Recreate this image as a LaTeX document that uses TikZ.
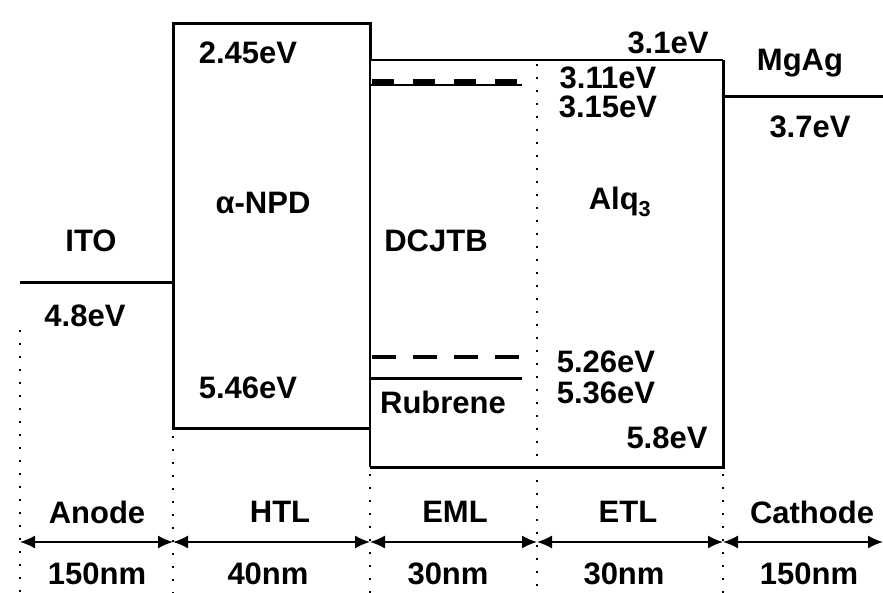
\documentclass[tikz,border=0pt]{standalone}
\usepackage{fontspec}
\setmainfont{Liberation Sans}
\usetikzlibrary{arrows.meta,calc,positioning}

\begin{document}
\begin{tikzpicture}[x=1pt,y=-1pt,
        lvl/.style={line width=3pt},
        sep/.style={dash pattern=on 2pt off 11pt,line width=1.6pt},
        txt/.style={font=\fontsize{31}{36}\selectfont\bfseries,inner sep=0pt},
        dim/.style={{Latex[length=15pt,width=13pt]}-{Latex[length=15pt,width=13pt]},line width=1.6pt}]
        \useasboundingbox (0,0) rectangle (883,593);
        % layer borders
        \coordinate (b0) at (20,542);
        \coordinate (b1) at (173,542);
        \coordinate (b2) at (370,542);
        \coordinate (b3) at (537,542);
        \coordinate (b4) at (723,542);
        \coordinate (b5) at (883,542);
        % ITO and MgAg levels
        \draw[lvl] (20,283) -- (173,283);
        \draw[lvl] (723,97) -- (883,97);
        % HTL box
        \draw[lvl] (370,60) -- (370,24) -- (173,24) -- (173,428) -- (370,428);
        % EML and ETL box
        \draw[line width=1.6pt] (370,24) -- (370,467);
        \draw[line width=2pt] (370,60) -- (723,60);
        \draw[lvl] (723,60) -- (723,467) -- (370,467);
        % dopant levels
        \draw[line width=2.4pt] (370,85) -- (522,85);
        \draw[line width=7pt,dash pattern=on 22pt off 19pt] (372,83) -- (522,83);
        \draw[line width=3.4pt,dash pattern=on 24pt off 17pt] (372,357) -- (522,357);
        \draw[line width=3pt] (370,378) -- (522,378);
        % dotted separators
        \draw[sep] (20,330) -- (20,593);
        \draw[sep] (173,436) -- (173,593);
        \draw[sep] (370,474) -- (370,593);
        \draw[sep] (537,64) -- (537,593);
        \draw[sep] (723,474) -- (723,593);
        % thickness arrows
        \draw[dim] (b0) -- (b1);
        \draw[dim] (b1) -- (b2);
        \draw[dim] (b2) -- (b3);
        \draw[dim] (b3) -- (b4);
        \draw[dim] (b4) -- (b5);
        % energy labels
        \node[txt] (ito) at (91,241) {ITO};
        \node[txt] (ito-e) at (85,316) {4.8eV};
        \node[txt] (npd-l) at (248,53) {2.45eV};
        \node[txt] (npd) at (263,203) {α-NPD};
        \node[txt] (npd-h) at (248,388) {5.46eV};
        \node[txt] (dcjtb) at (436,241) {DCJTB};
        \node[txt] (rub) at (443,402) {Rubrene};
        \node[txt] (alq-l) at (668,43) {3.1eV};
        \node[txt] (dc-l) at (608,78) {3.11eV};
        \node[txt] (rub-l) at (608,107) {3.15eV};
        \node[txt] (alq) at (620,202) {Alq\textsubscript{3}};
        \node[txt] (dc-h) at (606,362) {5.26eV};
        \node[txt] (rub-h) at (606,393) {5.36eV};
        \node[txt] (alq-h) at (667,438) {5.8eV};
        \node[txt] (mgag) at (800,63) {MgAg};
        \node[txt] (mgag-e) at (810,127) {3.7eV};
        % layer names and thicknesses
        \node[txt] (anode) at (97,512) {Anode};
        \node[txt] (htl) at (280,512) {HTL};
        \node[txt] (eml) at (455,512) {EML};
        \node[txt] (etl) at (628,512) {ETL};
        \node[txt] (cath) at (812,512) {Cathode};
        \node[txt] (d-anode) at (97,574) {150nm};
        \node[txt] (d-htl) at (268,574) {40nm};
        \node[txt] (d-eml) at (448,574) {30nm};
        \node[txt] (d-etl) at (624,574) {30nm};
        \node[txt] (d-cath) at (809,574) {150nm};
\end{tikzpicture}
\end{document}
